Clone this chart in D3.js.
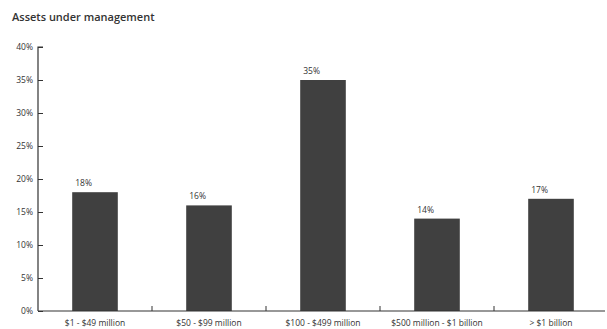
<!DOCTYPE html>
<html>
<head>
<meta charset="utf-8">
<script src="https://cdn.jsdelivr.net/npm/d3@7"></script>
<style>
  html, body { margin: 0; padding: 0; background: #fff; }
  svg { display: block; }
  text { font-family: "Open Sans", "DejaVu Sans", sans-serif; fill: #333; }
</style>
</head>
<body>
<svg id="chart" width="607" height="329"></svg>
<script>
const categories = ["$1 - $49 million", "$50 - $99 million", "$100 - $499 million", "$500 million - $1 billion", "> $1 billion"];
const values = [18, 16, 35, 14, 17];
const yTicks = [0, 5, 10, 15, 20, 25, 30, 35, 40];

const svg = d3.select("#chart");
const plotLeft = 38, plotRight = 608, plotTop = 47, plotBottom = 311;

const x = d3.scaleBand().domain(categories).range([plotLeft, plotRight]).paddingInner(0).paddingOuter(0);
const y = d3.scaleLinear().domain([0, 40]).range([plotBottom, plotTop]);
const barW = x.bandwidth() * 0.4;

// Title
svg.append("text")
  .attr("x", 12).attr("y", 21)
  .attr("font-size", 11).attr("font-weight", 600)
  .attr("fill", "#222")
  .text("Assets under management");

// Y axis: ticks pointing inward
const yAxis = d3.axisRight(y).tickValues(yTicks).tickSize(5).tickFormat(d => d + "%");
const gy = svg.append("g").attr("transform", `translate(${plotLeft},0)`).call(yAxis);
gy.select(".domain").attr("d", `M5,${plotTop}H0V${plotBottom}`).attr("stroke", "#333").attr("stroke-width", 1.2);
gy.selectAll(".tick line").attr("stroke", "#333");
gy.selectAll(".tick text")
  .attr("x", -5).attr("text-anchor", "end")
  .attr("font-size", 8.5).attr("font-family", "Open Sans, sans-serif").attr("fill", "#444");

// Bars
svg.append("g").selectAll("rect").data(values).join("rect")
  .attr("x", (d, i) => x(categories[i]) + (x.bandwidth() - barW) / 2)
  .attr("width", barW)
  .attr("y", d => y(d))
  .attr("height", d => y(0) - y(d))
  .attr("fill", "#404040");

// Value labels
svg.append("g").selectAll("text").data(values).join("text")
  .attr("x", (d, i) => x(categories[i]) + (x.bandwidth() - barW) / 2 + 3)
  .attr("y", d => y(d) - 6)
  .attr("font-size", 8.5).attr("fill", "#333")
  .text(d => d + "%");

// X axis: baseline with small upward ticks between categories
const gx = svg.append("g").attr("transform", `translate(0,${plotBottom})`);
gx.append("line").attr("x1", plotLeft).attr("x2", 605).attr("y1", 0).attr("y2", 0)
  .attr("stroke", "#333").attr("stroke-width", 1.2);
gx.selectAll("line.sep").data(categories.slice(1)).join("line")
  .attr("class", "sep")
  .attr("x1", d => x(d)).attr("x2", d => x(d))
  .attr("y1", 0).attr("y2", -5)
  .attr("stroke", "#333");
gx.selectAll("text").data(categories).join("text")
  .attr("x", d => x(d) + x.bandwidth() / 2)
  .attr("y", 15)
  .attr("text-anchor", "middle")
  .attr("font-size", 8.5).attr("fill", "#333")
  .text(d => d);
</script>
</body>
</html>
